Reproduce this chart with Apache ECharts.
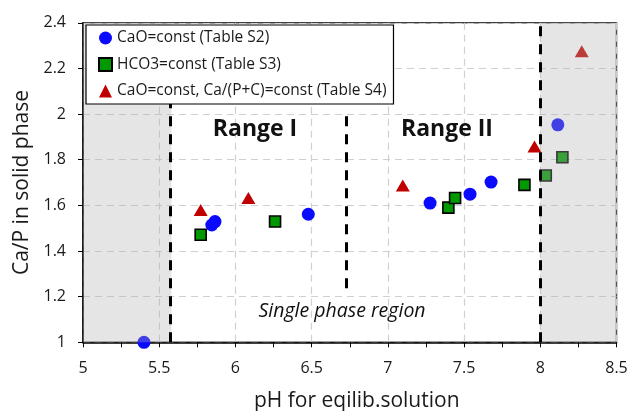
<!DOCTYPE html>
<html>
<head>
<meta charset="utf-8">
<script src="https://cdn.jsdelivr.net/npm/echarts@6/dist/echarts.min.js"></script>
<style>html,body{margin:0;padding:0;background:#fff}#c{width:629px;height:411px}</style>
</head>
<body>
<div id="c"></div>
<script>
// Series: CaO=const (Table S2)
const phS2 = [5.40, 5.845, 5.866, 6.478, 7.277, 7.539, 7.677, 8.115];
const caS2 = [1.00, 1.514, 1.529, 1.561, 1.610, 1.649, 1.702, 1.953];
// Series: HCO3=const (Table S3)
const phS3 = [5.772, 6.26, 7.397, 7.441, 7.896, 8.036, 8.145];
const caS3 = [1.471, 1.529, 1.590, 1.632, 1.690, 1.731, 1.811];
// Series: CaO=const, Ca/(P+C)=const (Table S4)
const phS4 = [5.772, 6.085, 7.098, 7.962, 8.272];
const caS4 = [1.580, 1.632, 1.687, 1.858, 2.275];
// Regions and boundaries
const grayLeft = [5, 5.58];
const grayRight = [8, 8.5];
const boundaries = [[5.57, 1.0, 2.4], [6.73, 1.237, 2.026], [8.0, 1.0, 2.4]];
const seriesNames = ['CaO=const (Table S2)', 'HCO3=const (Table S3)', 'CaO=const, Ca/(P+C)=const (Table S4)'];
const xTicks = [5, 5.5, 6, 6.5, 7, 7.5, 8, 8.5];
const yTicks = [1, 1.2, 1.4, 1.6, 1.8, 2, 2.2, 2.4];

const zip = (a, b) => a.map((v, i) => [v, b[i]]);
const FONT = 'Open Sans';

const chart = echarts.init(document.getElementById('c'));
chart.setOption({
  animation: false,
  textStyle: { fontFamily: FONT },
  grid: { left: 83, right: 12.5, top: 22.8, bottom: 68.7, outerBoundsMode: 'none', containLabel: false, show: true, borderColor: '#404040', borderWidth: 1.5, backgroundColor: 'transparent' },
  legend: {
    orient: 'vertical', left: 86, top: 25, z: 20,
    backgroundColor: '#fff', borderColor: '#000', borderWidth: 1.2,
    padding: [5, 7, 5, 12], itemGap: 10.5, itemWidth: 13, itemHeight: 13,
    textStyle: { fontFamily: FONT, fontSize: 15.5, lineHeight: 16, color: '#1a1a1a' },
    data: seriesNames
  },
  xAxis: {
    type: 'value', min: xTicks[0], max: xTicks[xTicks.length - 1], interval: 0.5,
    name: 'pH for eqilib.solution', nameLocation: 'middle', nameGap: 48,
    nameTextStyle: { fontSize: 21, color: '#1a1a1a', fontFamily: FONT, padding: [0, 0, 0, 14] },
    axisLine: { lineStyle: { color: '#000', width: 1.5 } },
    axisTick: { show: true, length: 5, lineStyle: { color: '#000' } },
    minorTick: { show: true, splitNumber: 2, length: 5, lineStyle: { color: '#000' } },
    axisLabel: { fontSize: 16, color: '#1a1a1a', margin: 18, formatter: v => String(v) },
    splitLine: { show: true, lineStyle: { color: '#d0d0d0', type: [7, 5], width: 1.2 } }
  },
  yAxis: {
    type: 'value', min: yTicks[0], max: yTicks[yTicks.length - 1], interval: 0.2,
    name: 'Ca/P in solid phase', nameLocation: 'middle', nameGap: 50,
    nameTextStyle: { fontSize: 21, color: '#1a1a1a', fontFamily: FONT },
    axisLine: { show: true, lineStyle: { color: '#000', width: 1.5 } },
    axisTick: { show: true, length: 5, lineStyle: { color: '#000' } },
    axisLabel: { fontSize: 16, color: '#1a1a1a', margin: 17, formatter: v => String(Math.round(v * 10) / 10) },
    splitLine: { show: true, lineStyle: { color: '#d0d0d0', type: [7, 5], width: 1.2 } }
  },
  series: [
    {
      name: seriesNames[0], type: 'scatter', z: 2, clip: false,
      symbol: 'circle', symbolSize: 13,
      itemStyle: { color: '#0a0aff', opacity: 1 },
      data: zip(phS2, caS2)
    },
    {
      name: seriesNames[1], type: 'scatter', z: 2, clip: false,
      symbol: 'rect', symbolSize: 11,
      itemStyle: { color: '#009900', borderColor: '#000', borderWidth: 1.6, opacity: 1 },
      data: zip(phS3, caS3)
    },
    {
      name: seriesNames[2], type: 'scatter', z: 2, clip: false,
      symbol: 'triangle', symbolSize: [14, 12],
      itemStyle: { color: '#c00000', opacity: 1 },
      data: zip(phS4, caS4)
    },
    {
      name: 'regions', type: 'scatter', z: 6, data: [], silent: true,
      markArea: {
        silent: true, z: 6,
        itemStyle: { color: 'rgba(175,175,175,0.33)' },
        data: [
          [{ xAxis: grayLeft[0] }, { xAxis: grayLeft[1] }],
          [{ xAxis: grayRight[0] }, { xAxis: grayRight[1] }]
        ]
      }
    },
    {
      name: 'bounds', type: 'scatter', z: 7, data: [], silent: true,
      markLine: {
        silent: true, z: 7, symbol: 'none', label: { show: false },
        lineStyle: { color: '#000', width: 3, type: [10, 8] },
        data: boundaries.map(b => [{ coord: [b[0], b[1]] }, { coord: [b[0], b[2]] }])
      }
    }
  ],
  graphic: [
    { type: 'text', x: 255, y: 129, z: 10, style: { text: 'Range I', font: 'bold 23px "Open Sans"', fill: '#111', align: 'center', verticalAlign: 'middle' } },
    { type: 'text', x: 447, y: 129, z: 10, style: { text: 'Range II', font: 'bold 23px "Open Sans"', fill: '#111', align: 'center', verticalAlign: 'middle' } },
    { type: 'text', x: 342, y: 311, z: 10, style: { text: 'Single phase region', font: 'italic 19.5px "Open Sans"', fill: '#111', align: 'center', verticalAlign: 'middle' } }
  ]
});
</script>
</body>
</html>
